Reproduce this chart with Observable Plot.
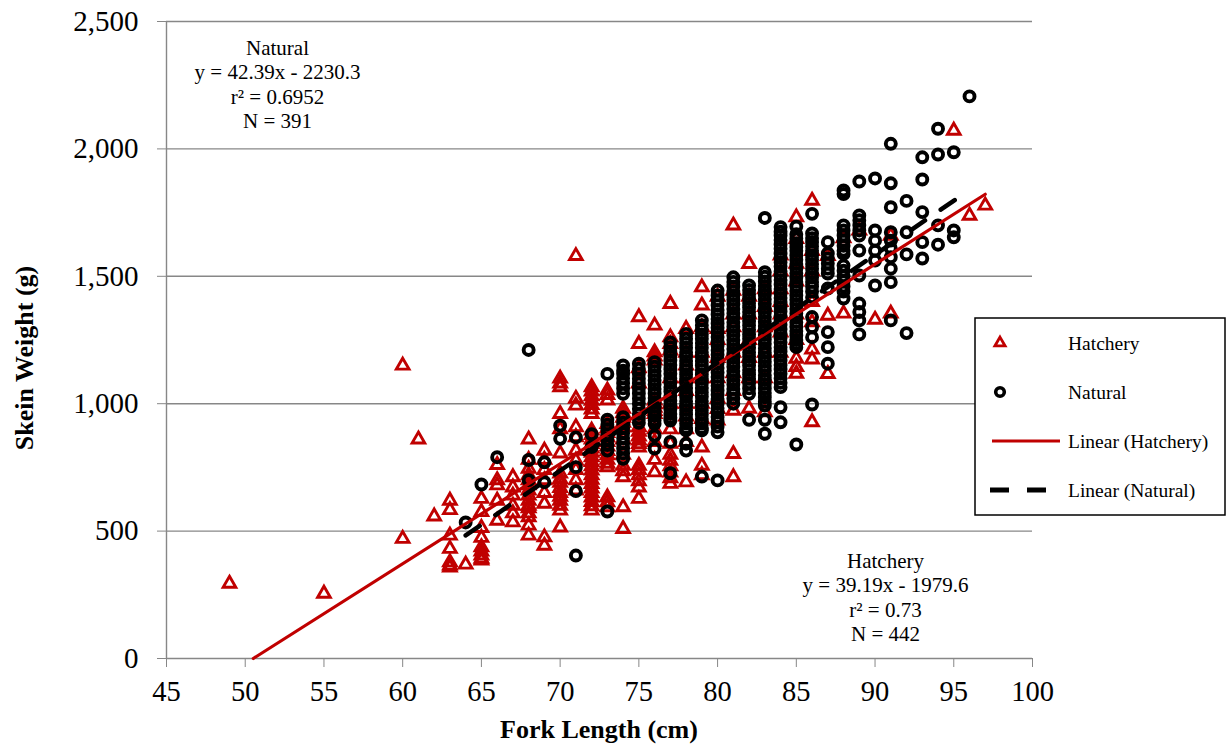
<!DOCTYPE html>
<html>
<head>
<meta charset="utf-8">
<script src="https://cdn.jsdelivr.net/npm/d3@7"></script>
<script src="https://cdn.jsdelivr.net/npm/@observablehq/plot@0.6"></script>
<style>
  html, body { margin: 0; padding: 0; background: white; }
  svg { display: block; }
</style>
</head>
<body>
<script>
// ---------- DATA ----------
const xTicks = [45, 50, 55, 60, 65, 70, 75, 80, 85, 90, 95, 100];
const yTicks = [0, 500, 1000, 1500, 2000, 2500];

// Hatchery: fork length (cm) and skein weights (g) observed at that length
const hatLengths = [49, 55, 60, 61, 62, 63, 64, 65, 66, 67, 68, 69, 70, 71, 72, 73, 74, 75, 76, 77, 78, 79, 80, 81, 82, 83, 84, 85, 86, 87, 88, 89, 90, 91, 95, 96, 97];
const hatWeights = [
  [294],
  [255],
  [1150, 470],
  [860],
  [558],
  [620, 583, 483, 431, 378, 365, 358],
  [369],
  [627, 575, 513, 474, 437, 420, 405, 392, 385],
  [760, 700, 680, 620, 541],
  [712, 672, 640, 600, 570, 535],
  [860, 780, 745, 720, 700, 680, 660, 640, 620, 600, 590, 570, 555, 522, 483],
  [816, 780, 740, 700, 650, 608, 476, 443],
  [1099, 1080, 1065, 960, 900, 805, 726, 705, 690, 670, 650, 635, 620, 600, 581, 515],
  [1580, 1020, 993, 908, 869, 816, 777, 740, 700, 660],
  [1065, 1048, 1030, 1012, 995, 978, 960, 895, 878, 860, 842, 825, 808, 790, 772, 755, 738, 720, 702, 685, 668, 650, 632, 615, 598, 581],
  [1052, 1035, 1013, 921, 903, 885, 868, 850, 832, 815, 798, 780, 765, 751, 633, 614, 594],
  [981, 963, 945, 926, 908, 860, 800, 757, 735, 712, 594, 509],
  [1340, 1235, 1140, 1080, 908, 890, 872, 856, 842, 829, 757, 740, 720, 696, 672, 627],
  [1307, 1202, 1186, 1170, 1013, 998, 985, 972, 960, 900, 850, 780, 731],
  [1392, 1261, 1235, 1209, 1100, 1000, 900, 843, 800, 777, 755, 730, 708, 686],
  [1294, 1200, 1150, 1100, 1050, 1000, 950, 900, 850, 692],
  [1457, 1386, 1300, 1200, 1100, 1000, 940, 829, 757, 720],
  [1420, 1294, 1250, 1180, 1100, 1020, 980, 934],
  [1700, 1444, 1350, 1300, 1200, 1120, 1050, 973, 803, 712],
  [1549, 1420, 1350, 1250, 1180, 1100, 981],
  [1450, 1380, 1300, 1200, 1100, 967],
  [1582, 1520, 1450, 1400, 1350, 1280, 1200],
  [1732, 1647, 1550, 1480, 1350, 1250, 1177, 1144, 1118],
  [1797, 1600, 1520, 1400, 1320, 1213, 1174, 928],
  [1580, 1346, 1117],
  [1650, 1354],
  [1680],
  [1330],
  [1660, 1354],
  [2072],
  [1738],
  [1778]
];

// Natural
const natLengths = [64, 65, 66, 68, 69, 70, 71, 72, 73, 74, 75, 76, 77, 78, 79, 80, 81, 82, 83, 84, 85, 86, 87, 88, 89, 90, 91, 92, 93, 94, 95, 96];
const natWeights = [
  [534],
  [683],
  [790],
  [1211, 779, 700],
  [770, 692],
  [914, 862],
  [868, 751, 657, 404],
  [880, 830],
  [1117, 937, 918, 900, 880, 860, 838, 816, 577],
  [1150, 1130, 1118, 1100, 1080, 1060, 1039, 947, 925, 905, 885, 865, 845, 825, 805, 784],
  [1157, 1137, 1118, 1098, 1080, 1060, 1040, 1020, 1000, 980, 960, 942, 925],
  [1163, 1145, 1128, 1110, 1092, 1075, 1058, 1040, 1022, 1005, 988, 970, 952, 935, 921, 875, 824],
  [1240, 1222, 1205, 1188, 1170, 1152, 1135, 1118, 1100, 1082, 1065, 1048, 1030, 1012, 995, 978, 960, 945, 934, 850, 727],
  [1274, 1255, 1238, 1220, 1202, 1185, 1168, 1150, 1132, 1115, 1098, 1080, 1062, 1045, 1028, 1010, 992, 975, 958, 940, 922, 905, 895, 843, 816],
  [1327, 1308, 1290, 1272, 1255, 1238, 1220, 1202, 1185, 1168, 1150, 1132, 1115, 1098, 1080, 1062, 1045, 1028, 1010, 992, 975, 958, 940, 922, 905, 895, 714],
  [1444, 1425, 1405, 1386, 1368, 1350, 1332, 1315, 1298, 1280, 1262, 1245, 1228, 1210, 1192, 1175, 1158, 1140, 1122, 1105, 1088, 1070, 1052, 1035, 1018, 1000, 982, 965, 948, 930, 910, 888, 699],
  [1496, 1478, 1460, 1442, 1425, 1408, 1390, 1372, 1355, 1338, 1320, 1302, 1285, 1268, 1250, 1232, 1215, 1198, 1180, 1162, 1145, 1128, 1110, 1092, 1075, 1058, 1040, 1020, 1000],
  [1464, 1446, 1430, 1412, 1395, 1378, 1360, 1342, 1325, 1308, 1290, 1272, 1255, 1238, 1220, 1202, 1185, 1168, 1150, 1132, 1115, 1098, 1080, 1060, 1039, 937],
  [1729, 1516, 1498, 1480, 1462, 1445, 1428, 1410, 1392, 1375, 1358, 1340, 1322, 1305, 1288, 1270, 1252, 1235, 1218, 1200, 1182, 1165, 1148, 1130, 1112, 1095, 1078, 1060, 1042, 1025, 1008, 993, 937, 882],
  [1693, 1675, 1660, 1642, 1625, 1608, 1590, 1572, 1555, 1538, 1520, 1502, 1485, 1468, 1450, 1432, 1415, 1398, 1380, 1362, 1345, 1328, 1310, 1292, 1275, 1258, 1240, 1222, 1205, 1188, 1170, 1152, 1135, 1118, 1100, 1082, 1065, 986, 927],
  [1695, 1665, 1648, 1630, 1615, 1600, 1582, 1565, 1548, 1530, 1512, 1495, 1478, 1460, 1442, 1425, 1408, 1390, 1372, 1355, 1338, 1320, 1302, 1285, 1268, 1250, 1235, 1222, 840],
  [1745, 1668, 1650, 1635, 1618, 1600, 1582, 1565, 1548, 1530, 1512, 1495, 1478, 1460, 1440, 1418, 1340, 1300, 1261, 997],
  [1634, 1590, 1570, 1550, 1530, 1511, 1452, 1281, 1222, 1157],
  [1837, 1823, 1700, 1680, 1660, 1640, 1620, 1600, 1588, 1542, 1522, 1500, 1480, 1460, 1440, 1413],
  [1872, 1739, 1720, 1700, 1680, 1660, 1601, 1503, 1393, 1360, 1327, 1272],
  [1884, 1680, 1640, 1600, 1562, 1464],
  [2020, 1865, 1771, 1673, 1640, 1610, 1575, 1530, 1477, 1327],
  [1796, 1673, 1586, 1277],
  [1967, 1880, 1752, 1634, 1570],
  [2079, 1978, 1700, 1624],
  [1987, 1680, 1653],
  [2206]
];

// Trend line end points (as drawn in the reference)
const hatTrendX = [50.51, 97];
const hatTrendY = [0, 1822];
const natTrendX = [64, 96];
const natTrendY = [483, 1839];

const natNote = "Natural\ny = 42.39x - 2230.3\nr² = 0.6952\nN = 391";
const hatNote = "Hatchery\ny = 39.19x - 1979.6\nr² = 0.73\nN = 442";
const legendLabels = ["Hatchery", "Natural", "Linear (Hatchery)", "Linear (Natural)"];

// ---------- build tables ----------
const hatchery = hatLengths.flatMap((len, i) => hatWeights[i].map(w => ({len, w})));
const natural = natLengths.flatMap((len, i) => natWeights[i].map(w => ({len, w})));
const hatTrend = hatTrendX.map((x, i) => ({x, y: hatTrendY[i]}));
const natTrend = natTrendX.map((x, i) => ({x, y: natTrendY[i]}));

const RED = "#C00000";
const GREY = "#878787";
const FONT = "'Liberation Serif', 'Times New Roman', serif";
const triR = 4.7, circR = 5.0;
const triSW = 2.9, circSW = 3.9;

const chart = Plot.plot({
  width: 1230,
  height: 745,
  marginLeft: 166,
  marginRight: 198,
  marginTop: 21,
  marginBottom: 87,
  style: {fontFamily: FONT, background: "white", color: "black", overflow: "visible"},
  x: {domain: [45, 100]},
  y: {domain: [0, 2500]},
  marks: [
    Plot.gridY({ticks: yTicks, stroke: GREY, strokeOpacity: 1, strokeWidth: 1.4}),
    Plot.ruleX([45], {stroke: GREY, strokeWidth: 1.4}),
    Plot.axisY({ticks: yTicks, tickFormat: d3.format(","), tickSize: 9, tickPadding: 19, fontSize: 29, stroke: GREY, fill: "black", label: null}),
    Plot.axisX({ticks: xTicks, tickSize: 9, tickPadding: 13, fontSize: 28.5, stroke: GREY, fill: "black", label: null}),
    Plot.dot(hatchery, {x: "len", y: "w", symbol: "triangle", r: triR, stroke: RED, strokeWidth: triSW, fill: "none"}),
    Plot.dot(natural, {x: "len", y: "w", symbol: "circle", r: circR, stroke: "black", strokeWidth: circSW, fill: "none"}),
    Plot.line(hatTrend, {x: "x", y: "y", stroke: RED, strokeWidth: 3.2}),
    Plot.line(natTrend, {x: "x", y: "y", stroke: "black", strokeWidth: 4.5, strokeDasharray: "17,19"}),
    Plot.text([natNote], {frameAnchor: "top-left", dx: 111, dy: 16, text: d => d, textAnchor: "middle", lineAnchor: "top", lineHeight: 1.16, fontSize: 21, fill: "black"}),
    Plot.text([hatNote], {frameAnchor: "top-left", dx: 719, dy: 529, text: d => d, textAnchor: "middle", lineAnchor: "top", lineHeight: 1.16, fontSize: 21, fill: "black"})
  ]
});

const svg = d3.select(chart);

// Axis titles
svg.append("text")
  .attr("transform", "translate(33,358) rotate(-90)")
  .attr("text-anchor", "middle")
  .attr("font-family", FONT).attr("font-weight", "bold").attr("font-size", 26)
  .attr("fill", "black")
  .text("Skein Weight (g)");
svg.append("text")
  .attr("x", 599).attr("y", 738)
  .attr("text-anchor", "middle")
  .attr("font-family", FONT).attr("font-weight", "bold").attr("font-size", 26)
  .attr("fill", "black")
  .text("Fork Length (cm)");

// Legend
const lg = svg.append("g");
lg.append("rect").attr("x", 975).attr("y", 318).attr("width", 250).attr("height", 197)
  .attr("fill", "white").attr("stroke", "black").attr("stroke-width", 1.5);
const rows = [343, 392, 441, 490];
lg.append("path")
  .attr("d", d3.symbol(d3.symbolTriangle, Math.PI * 3.8 * 3.8)())
  .attr("transform", `translate(1000,${rows[0]})`)
  .attr("fill", "none").attr("stroke", RED).attr("stroke-width", 2.8);
lg.append("circle").attr("cx", 1000).attr("cy", rows[1]).attr("r", 4.3)
  .attr("fill", "none").attr("stroke", "black").attr("stroke-width", 3.6);
lg.append("line").attr("x1", 992).attr("x2", 1060).attr("y1", rows[2]).attr("y2", rows[2])
  .attr("stroke", RED).attr("stroke-width", 3.2);
lg.append("line").attr("x1", 990).attr("x2", 1050).attr("y1", rows[3]).attr("y2", rows[3])
  .attr("stroke", "black").attr("stroke-width", 5).attr("stroke-dasharray", "19,18");
legendLabels.forEach((t, i) => {
  lg.append("text").attr("x", 1068).attr("y", rows[i]).attr("dy", "0.34em")
    .attr("text-anchor", "start")
    .attr("font-family", FONT).attr("font-size", 19.5).attr("fill", "black").text(t);
});

document.body.append(chart);
</script>
</body>
</html>
